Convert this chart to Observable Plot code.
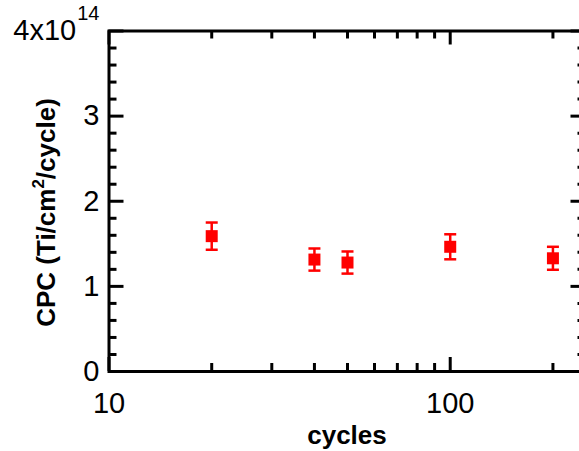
<!DOCTYPE html>
<html>
<head>
<meta charset="utf-8">
<script src="https://cdn.jsdelivr.net/npm/d3@7"></script>
<script src="https://cdn.jsdelivr.net/npm/@observablehq/plot@0.6"></script>
<style>
  html, body { margin: 0; padding: 0; background: #fff; overflow: hidden; width: 579px; height: 451px; }
  #chart svg { display: block; }
</style>
</head>
<body>
<div id="chart"></div>
<script>
// ---- data (CPC in units of 1e14 Ti/cm^2/cycle) ----
const cycles = [20, 40, 50, 100, 200];
const cpc = [1.59, 1.315, 1.28, 1.465, 1.33];
const cpcErr = [0.16, 0.13, 0.13, 0.147, 0.135];

// ---- tick labels / positions ----
const xTicksMajor = [10, 100];
const xTicksMinor = [20, 30, 40, 50, 60, 70, 80, 90, 200];
const yTicksMajor = [0, 1, 2, 3, 4];
const yTicksMinor = [0.2, 0.4, 0.6, 0.8, 1.2, 1.4, 1.6, 1.8, 2.2, 2.4, 2.6, 2.8, 3.2, 3.4, 3.6, 3.8];
const xTitle = "cycles";
const yTitleParts = ["CPC (Ti/cm", "2", "/cycle)"];
const yTopLabel = ["4x10", "14"];

const data = cycles.map((c, i) => ({x: c, y: cpc[i], lo: cpc[i] - cpcErr[i], hi: cpc[i] + cpcErr[i]}));

const W = 590, H = 451;
const mL = 108.5, mR = 4.5, mT = 30.5, mB = 80;
const fw = W - mL - mR;
const fh = H - mT - mB;
const RED = "#ff0000";
const capSymbol = {
  draw(context, size) {
    const w = Math.sqrt(size);
    context.moveTo(-w, 0);
    context.lineTo(w, 0);
  }
};

const chart = Plot.plot({
  width: W,
  height: H,
  marginLeft: mL,
  marginRight: mR,
  marginTop: mT,
  marginBottom: mB,
  x: {type: "log", domain: [10, 250]},
  y: {domain: [0, 4]},
  style: {fontFamily: "'Liberation Sans', Arial, sans-serif", background: "white", maxWidth: "none", color: "black"},
  marks: [
    Plot.axisX(xTicksMajor, {tickSize: 0, tickPadding: 21, fontSize: 29, tickFormat: d => String(d), label: null}),
    Plot.axisY(yTicksMajor, {tickSize: 0, tickPadding: 9.5, fontSize: 29, tickFormat: d => d === 4 ? yTopLabel[0] : String(d), label: null}),
    // inward ticks: left / right
    Plot.tickY(yTicksMajor, {y: d => d, insetRight: fw - 15, strokeWidth: 3}),
    Plot.tickY(yTicksMinor, {y: d => d, insetRight: fw - 8, strokeWidth: 3}),
    Plot.tickY(yTicksMajor, {y: d => d, insetLeft: fw - 15, strokeWidth: 3}),
    Plot.tickY(yTicksMinor, {y: d => d, insetLeft: fw - 8, strokeWidth: 3}),
    // inward ticks: bottom / top
    Plot.tickX(xTicksMajor, {x: d => d, insetTop: fh - 14, strokeWidth: 3}),
    Plot.tickX(xTicksMinor, {x: d => d, insetTop: fh - 8, strokeWidth: 3}),
    Plot.tickX(xTicksMajor, {x: d => d, insetBottom: fh - 14, strokeWidth: 3}),
    Plot.tickX(xTicksMinor, {x: d => d, insetBottom: fh - 8, strokeWidth: 3}),
    Plot.frame({strokeWidth: 3}),
    // error bars
    Plot.ruleX(data, {x: "x", y1: "lo", y2: "hi", stroke: RED, strokeWidth: 2.5}),
    Plot.dot(data, {x: "x", y: "lo", symbol: capSymbol, r: 6 / Math.sqrt(Math.PI), stroke: RED, strokeWidth: 2.5, fill: "none"}),
    Plot.dot(data, {x: "x", y: "hi", symbol: capSymbol, r: 6 / Math.sqrt(Math.PI), stroke: RED, strokeWidth: 2.5, fill: "none"}),
    Plot.dot(data, {x: "x", y: "y", symbol: "square", r: 12 / Math.sqrt(Math.PI), fill: RED, stroke: "none"})
  ]
});

document.getElementById("chart").appendChild(chart);
const svg = d3.select(chart);

// superscript on the top y tick label
svg.selectAll("text").each(function() {
  const t = d3.select(this);
  if (t.text() === yTopLabel[0]) {
    t.append("tspan").attr("dx", 1).attr("dy", -20).attr("font-size", 20).text(yTopLabel[1]);
  }
});

// axis titles
svg.append("text")
  .attr("x", mL + fw / 2)
  .attr("y", 444)
  .attr("text-anchor", "middle")
  .attr("font-weight", "bold")
  .attr("font-size", 26)
  .attr("fill", "black")
  .text(xTitle);

const yt = svg.append("text")
  .attr("transform", "translate(55,212.5) rotate(-90)")
  .attr("text-anchor", "middle")
  .attr("font-weight", "bold")
  .attr("font-size", 26)
  .attr("fill", "black");
yt.append("tspan").text(yTitleParts[0]);
yt.append("tspan").attr("dy", -11).attr("font-size", 17).text(yTitleParts[1]);
yt.append("tspan").attr("dy", 11).text(yTitleParts[2]);
</script>
</body>
</html>
